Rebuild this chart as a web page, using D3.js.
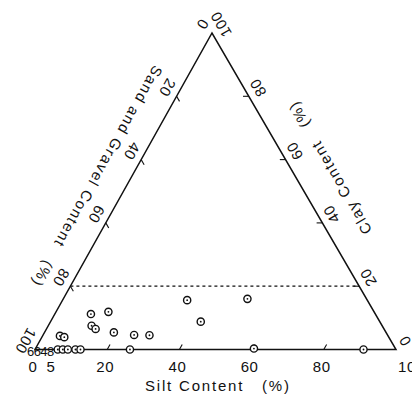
<html>
<head>
  <script src="https://cdn.jsdelivr.net/npm/d3@7"></script>
  <style>
    body { margin: 0; background: #fff; }
    text { font-family: "Liberation Sans", Arial, sans-serif; fill: #111; white-space: pre; }
  </style>
</head>
<body>
  <svg id="chart" width="412" height="398"></svg>

  <script type="text/javascript">

  // samples (silt %, clay %), sand = 100 - silt - clay
  let silt = [10, 14.5, 12, 13.6, 19.2, 25.2, 29.5, 26.3, 4.8, 6.2, 34.5, 51, 41.6, 60.5, 91, 6.3, 7.7, 9.1, 11.2, 12.6]
  let clay = [11.2, 11.9, 7.5, 6.5, 5.4, 4.6, 4.5, 0, 4.3, 3.9, 15.6, 16, 8.8, 0.3, 0, 0, 0, 0, 0, 0]

  let siltTicks = [0, 5, 20, 40, 60, 80, 100]
  let sandTicks = [0, 20, 40, 60, 80, 100]
  let clayTicks = [0, 20, 40, 60, 80, 100]
  let innerTicks = [20, 40, 60, 80]
  let clayLimit = 20

  let svg = d3.select('#chart')

  // triangle corners: L = sand 100, R = silt 100, A = clay 100
  let xBase = d3.scaleLinear().domain([0, 100]).range([35, 396])
  let yClay = d3.scaleLinear().domain([0, 100]).range([349.5, 33])
  let xLean = d3.scaleLinear().domain([0, 100]).range([0, 177])

  function proj(s, c){ return [xBase(s) + xLean(c), yClay(c)] }

  let L = proj(0, 0), R = proj(100, 0), A = proj(0, 100)
  let lenL = Math.hypot(L[0]-A[0], L[1]-A[1])
  let lenR = Math.hypot(R[0]-A[0], R[1]-A[1])
  let dirL = [(L[0]-A[0])/lenL, (L[1]-A[1])/lenL]
  let dirR = [(R[0]-A[0])/lenR, (R[1]-A[1])/lenR]
  // outward normals
  let nL = [-Math.abs(dirL[1]), -Math.abs(dirL[0])]
  let nR = [Math.abs(dirR[1]), -Math.abs(dirR[0])]
  let angL = Math.atan2(dirL[1], dirL[0]) * 180 / Math.PI
  let angR = Math.atan2(-dirR[1], -dirR[0]) * 180 / Math.PI

  let line = d3.line()

  // outline
  svg.append("path")
     .attr("d", line([L, R, A]) + "Z")
     .attr("fill", "none")
     .attr("stroke", "#111")
     .attr("stroke-width", 1.5)

  // clay 20% limit
  svg.append("path")
     .attr("d", line([proj(0, clayLimit), proj(100 - clayLimit, clayLimit)]))
     .attr("fill", "none")
     .attr("stroke", "#111")
     .attr("stroke-width", 1.2)
     .attr("stroke-dasharray", "3,3")

  // small ticks
  let tickG = svg.append("g").attr("stroke", "#111").attr("stroke-width", 1.1)
  innerTicks.forEach(function(v){
    tickG.append("path").attr("d", line([proj(v, 0), proj(v, 1.6)]))
    tickG.append("path").attr("d", line([proj(0, 100 - v), proj(1.6, 100 - v - 1.6)]))
    tickG.append("path").attr("d", line([proj(100 - v, v), proj(100 - v - 1.6, v)]))
  })

  // bottom labels (silt)
  svg.selectAll(".silt-lab")
     .data(siltTicks)
     .enter()
     .append("text")
     .attr("class", "silt-lab")
     .attr("x", function(d){ return d == 100 ? xBase(d) + 2 : xBase(d) - 2 })
     .attr("y", 372)
     .attr("text-anchor", function(d){ return d == 100 ? "start" : "middle" })
     .attr("font-size", 15)
     .attr("letter-spacing", 0.6)
     .text(function(d){ return d })

  svg.append("text")
     .attr("x", 145)
     .attr("y", 391)
     .attr("font-size", 15)
     .attr("letter-spacing", 1.8)
     .text("Silt Content   (%)")

  // left labels (sand)
  svg.selectAll(".sand-lab")
     .data(sandTicks)
     .enter()
     .append("text")
     .attr("class", "sand-lab")
     .attr("transform", function(d){
       let p = proj(0, 100 - d)
       let x = p[0] + 12*nL[0] - 3*dirL[0], y = p[1] + 12*nL[1] - 3*dirL[1]
       return "translate(" + x + "," + y + ") rotate(" + angL + ")"
     })
     .attr("text-anchor", "middle")
     .attr("dominant-baseline", "central")
     .attr("font-size", 15)
     .attr("letter-spacing", 0.6)
     .text(function(d){ return d })

  // right labels (clay)
  svg.selectAll(".clay-lab")
     .data(clayTicks)
     .enter()
     .append("text")
     .attr("class", "clay-lab")
     .attr("transform", function(d){
       let p = proj(100 - d, d)
       let x = p[0] + 12*nR[0] - 3*dirR[0], y = p[1] + 12*nR[1] - 3*dirR[1]
       return "translate(" + x + "," + y + ") rotate(" + angR + ")"
     })
     .attr("text-anchor", "middle")
     .attr("dominant-baseline", "central")
     .attr("font-size", 15)
     .attr("letter-spacing", 0.6)
     .text(function(d){ return d })

  // side titles
  let pl = proj(0, 50)
  svg.append("text")
     .attr("transform", "translate(" + (pl[0] + 30*nL[0]) + "," + (pl[1] + 30*nL[1]) + ") rotate(" + angL + ")")
     .attr("text-anchor", "middle")
     .attr("dominant-baseline", "central")
     .attr("font-size", 15)
     .attr("letter-spacing", 1.6)
     .text("Sand and Gravel Content   (%)")

  let pr = proj(48, 52)
  svg.append("text")
     .attr("transform", "translate(" + (pr[0] + 34*nR[0]) + "," + (pr[1] + 34*nR[1]) + ") rotate(" + angR + ")")
     .attr("text-anchor", "middle")
     .attr("dominant-baseline", "central")
     .attr("font-size", 15)
     .attr("letter-spacing", 1.6)
     .text("Clay Content   (%)")

  // stray numbers printed at the lower left corner
  svg.append("text")
     .attr("x", 27)
     .attr("y", 356)
     .attr("font-size", 13)
     .attr("letter-spacing", -0.6)
     .text("6648")

  // sample points
  let pts = silt.map(function(s, i){ return {"s": s, "c": clay[i]} })
  let g = svg.selectAll(".pt")
     .data(pts)
     .enter()
     .append("g")
     .attr("class", "pt")
     .attr("transform", function(d){ let p = proj(d.s, d.c); return "translate(" + p[0] + "," + p[1] + ")" })
  g.append("circle")
     .attr("r", 3.6)
     .attr("fill", "#fff")
     .attr("stroke", "#111")
     .attr("stroke-width", 1.4)
  g.append("circle")
     .attr("r", 0.9)
     .attr("fill", "#111")

  </script>
</body>
</html>
